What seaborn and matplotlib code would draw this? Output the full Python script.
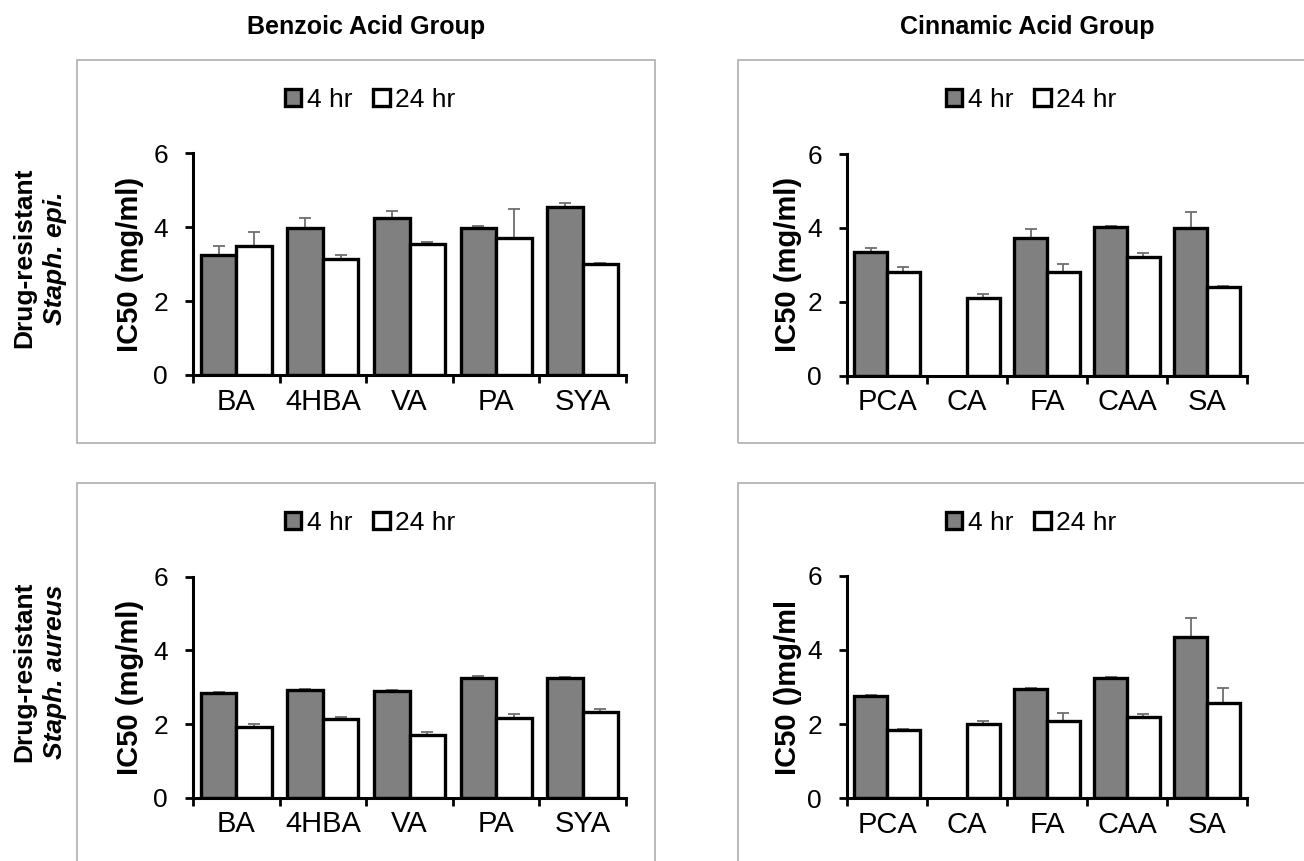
import numpy as np
import pandas as pd
import matplotlib
matplotlib.use("Agg")
import matplotlib.pyplot as plt
from matplotlib.patches import Patch, Rectangle
import seaborn as sns

# ---- data ----
benzoic = ["BA", "4HBA", "VA", "PA", "SYA"]
cinnamic = ["PCA", "CA", "FA", "CAA", "SA"]
times = ["4 hr", "24 hr"]

# Staph. epi. (top row)
epi_benz_4 = [3.24, 3.99, 4.24, 3.97, 4.55]
epi_benz_4_err = [0.24, 0.25, 0.19, 0.07, 0.10]
epi_benz_24 = [3.49, 3.13, 3.55, 3.71, 3.00]
epi_benz_24_err = [0.37, 0.13, 0.05, 0.79, 0.03]

epi_cinn_4 = [3.35, np.nan, 3.72, 4.03, 4.00]
epi_cinn_4_err = [0.10, np.nan, 0.24, 0.03, 0.42]
epi_cinn_24 = [2.81, 2.11, 2.81, 3.22, 2.41]
epi_cinn_24_err = [0.12, 0.11, 0.20, 0.10, 0.02]

# Staph. aureus (bottom row)
aur_benz_4 = [2.84, 2.93, 2.90, 3.25, 3.26]
aur_benz_4_err = [0.03, 0.03, 0.03, 0.06, 0.03]
aur_benz_24 = [1.91, 2.14, 1.69, 2.17, 2.33]
aur_benz_24_err = [0.08, 0.06, 0.10, 0.10, 0.07]

aur_cinn_4 = [2.77, np.nan, 2.95, 3.24, 4.35]
aur_cinn_4_err = [0.02, np.nan, 0.02, 0.03, 0.51]
aur_cinn_24 = [1.84, 1.99, 2.08, 2.18, 2.58]
aur_cinn_24_err = [0.03, 0.10, 0.22, 0.09, 0.38]

col_titles = ["Benzoic Acid Group", "Cinnamic Acid Group"]
row_top = ["Drug-resistant", "Staph. epi."]
row_bottom = ["Drug-resistant", "Staph. aureus"]
ylabels = [["IC50 (mg/ml)", "IC50 (mg/ml)"], ["IC50 (mg/ml)", "IC50 ()mg/ml"]]

palette = {"4 hr": "#808080", "24 hr": "#ffffff"}
err_color = "#6e6e6e"
box_color = "#b4b4b4"

W, H = 1304, 861


def fx(px):
    return px / W


def fy(py):
    return 1 - py / H


def long_frame(cats, v4, v24):
    return pd.DataFrame({
        "compound": cats * 2,
        "time": ["4 hr"] * len(cats) + ["24 hr"] * len(cats),
        "ic50": list(v4) + list(v24),
    })


def draw_panel(ax, cats, v4, e4, v24, e24, ylabel, ylab_off):
    df = long_frame(cats, v4, v24)
    sns.barplot(data=df, x="compound", y="ic50", hue="time", order=cats,
                hue_order=times, palette=palette, edgecolor="black",
                linewidth=2.4, width=0.82, saturation=1, errorbar=None,
                legend=False, ax=ax)
    errs = {"4 hr": e4, "24 hr": e24}
    for t, cont in zip(times, ax.containers):
        for bar in cont:
            h = bar.get_height()
            if not np.isfinite(h):
                continue
            xc = bar.get_x() + bar.get_width() / 2
            e = errs[t][int(round(xc))]
            if not np.isfinite(e):
                continue
            # drawn under the bars so only the upper half shows
            ax.errorbar(xc, h, yerr=e, fmt="none", ecolor=err_color,
                        elinewidth=1.3, capsize=4.3, capthick=1.3, zorder=0.5)
    ax.set_xlim(-0.5, len(cats) - 0.5)
    ax.set_ylim(0, 6)
    ax.set_yticks([0, 2, 4, 6])
    ax.set_xticks(np.arange(-0.5, len(cats)), minor=True)
    ax.tick_params(axis="x", which="major", length=0, pad=9, labelsize=21,
                   colors="black")
    ax.tick_params(axis="x", which="minor", bottom=True, length=6, width=2,
                   direction="out", color="black")
    ax.tick_params(axis="y", left=True, length=6, width=2, pad=12, labelsize=19,
                   direction="out", colors="black")
    for s in ["top", "right"]:
        ax.spines[s].set_visible(False)
    for s in ["left", "bottom"]:
        ax.spines[s].set_linewidth(2.2)
        ax.spines[s].set_color("black")
    ax.set_xlabel("")
    ax.set_ylabel(ylabel, fontsize=21, fontweight="bold", va="center",
                  color="black")
    ax.yaxis.set_label_coords(ylab_off, 0.5)
    ax.set_facecolor("white")


sns.set_theme(style="white")
plt.rcParams["font.family"] = ["Liberation Sans", "DejaVu Sans"]
plt.rcParams["text.color"] = "black"

fig = plt.figure(figsize=(W / 100, H / 100), dpi=100)
fig.patch.set_facecolor("white")

# outer chart boxes (Excel chart areas)
boxes = [(77, 60, 655, 443), (738, 60, 1316, 443),
         (77, 483, 655, 870), (738, 483, 1316, 870)]
for x0, y0, x1, y1 in boxes:
    fig.add_artist(Rectangle((fx(x0), fy(y1)), fx(x1) - fx(x0), fy(y0) - fy(y1),
                             transform=fig.transFigure, fill=False,
                             edgecolor=box_color, linewidth=1.3, zorder=0))

# plot areas: (left, top, right, bottom) in pixels
areas = [[(193, 153.3, 626, 375), (847, 154, 1247, 375.7)],
         [(193, 576.7, 626, 797.7), (847, 575.7, 1247, 798.3)]]

panels = [
    [(benzoic, epi_benz_4, epi_benz_4_err, epi_benz_24, epi_benz_24_err),
     (cinnamic, epi_cinn_4, epi_cinn_4_err, epi_cinn_24, epi_cinn_24_err)],
    [(benzoic, aur_benz_4, aur_benz_4_err, aur_benz_24, aur_benz_24_err),
     (cinnamic, aur_cinn_4, aur_cinn_4_err, aur_cinn_24, aur_cinn_24_err)],
]

for r in range(2):
    for c in range(2):
        l, t, rr, b = areas[r][c]
        ax = fig.add_axes([fx(l), fy(b), fx(rr) - fx(l), fy(t) - fy(b)])
        ylab_off = -(l - (130 if c == 0 else 788)) / (rr - l)
        draw_panel(ax, *panels[r][c], ylabels[r][c], ylab_off)

        x0, y0, x1, y1 = boxes[r * 2 + c]
        cx = (x0 + x1) / 2
        handles = [Patch(facecolor=palette[t], edgecolor="black", linewidth=2.4, label=t)
                   for t in times]
        leg = fig.legend(handles=handles, loc="center", ncol=2, frameon=False,
                         bbox_to_anchor=(fx(cx + 4), fy(y0 + 40)), fontsize=19,
                         handlelength=0.62, handleheight=0.62, handletextpad=0.2,
                         columnspacing=0.8, borderaxespad=0)
        for txt in leg.get_texts():
            txt.set_color("black")

# column titles
fig.text(fx(366), fy(27), col_titles[0], ha="center", va="center",
         fontsize=18, fontweight="bold", color="black")
fig.text(fx(1027), fy(27), col_titles[1], ha="center", va="center",
         fontsize=18, fontweight="bold", color="black")

# row labels
for (line1, line2), yc in [(row_top, 258), (row_bottom, 672)]:
    fig.text(fx(24), fy(yc), line1, rotation=90, ha="center", va="center",
             fontsize=19, fontweight="bold", color="black")
    fig.text(fx(55), fy(yc), line2, rotation=90, ha="center", va="center",
             fontsize=19, fontweight="bold", fontstyle="italic", color="black")

fig.savefig("out.png", dpi=100, facecolor="white")
